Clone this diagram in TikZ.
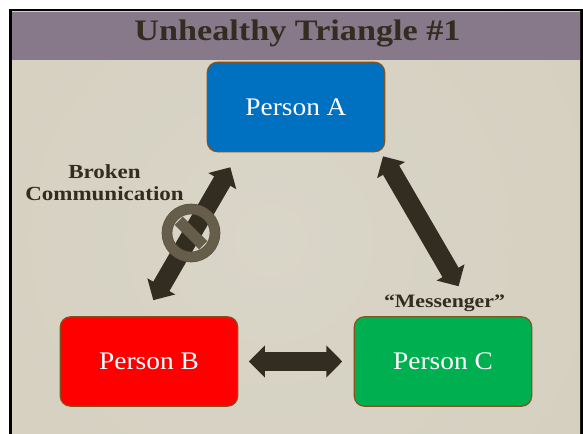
\documentclass[tikz,border=0pt]{standalone}
\usepackage{fontspec}
\setmainfont[FakeStretch=1.08,BoldFeatures={FakeStretch=1.15}]{Liberation Serif}
\usetikzlibrary{arrows.meta,calc}
\definecolor{bandcolor}{HTML}{87788A}
\definecolor{inkcolor}{HTML}{332C20}
\definecolor{edgecolor}{HTML}{84521F}
\definecolor{signcolor}{HTML}{665E4B}
\definecolor{signedge}{HTML}{5A5342}
\definecolor{paperinner}{HTML}{D9D5C8}
\definecolor{papermid}{HTML}{D3CDBA}
\definecolor{paperouter}{HTML}{B2AB97}
\definecolor{boxblue}{HTML}{0070C0}
\definecolor{boxgreen}{HTML}{00B050}
\pgfdeclareradialshading{paperglow}{\pgfpoint{0bp}{0bp}}{color(0bp)=(paperinner); color(37bp)=(papermid); color(50bp)=(paperouter)}
\tikzset{
  personbox/.style={draw=edgecolor,line width=0.9pt,rounded corners=7.5pt,minimum width=133pt,minimum height=67pt,inner sep=0pt,text=white,font=\fontsize{19}{23}\selectfont},
  fatarrow/.style={draw=inkcolor,line width=14pt,{Triangle[length=12pt,width=23.5pt]}-{Triangle[length=12pt,width=23.5pt]}},
  boldnote/.style={text=inkcolor,align=center,font=\fontsize{15}{16.5}\selectfont\bfseries,inner sep=0pt},
  nosign/.style={circle,draw=signedge,line width=0.5pt,double=signcolor,double distance=7pt,minimum size=36pt,inner sep=0pt},
  signbar/.style={draw=signedge,line width=0.5pt,double=signcolor,double distance=7.5pt}
}
\begin{document}
\begin{tikzpicture}[x=0.75pt,y=0.75pt,yscale=-1,xscale=1]
\useasboundingbox (0,0) rectangle (583,434);
%backdrop
\fill[white] (0,0) rectangle (583,434);
\fill[black] (9,9) rectangle (583,434);
\begin{scope}
\clip (12,12) rectangle (580,434);
\shade[shading=paperglow] (270,240) circle (390);
\end{scope}
\fill[bandcolor] (12,12) rectangle (580,60);
\node[anchor=base,text=inkcolor,font=\fontsize{22.3}{26}\selectfont\bfseries,inner sep=0pt] (titleText) at (297.5,40.7) {Unhealthy Triangle \#1};

%boxes
\node[personbox,fill=boxblue] (personA) at (296,107) {Person A};
\node[personbox,fill=red] (personB) at (149,361.5) {Person B};
\node[personbox,fill=boxgreen] (personC) at (443,361.5) {Person C};

%arrows
\draw[fatarrow,shorten <=13pt,shorten >=13.9pt] ($(personA.south)+(-57,0)$) -- ($(personB.north)+(-5,0)$);
\draw[fatarrow,shorten <=3.5pt,shorten >=26pt] ($(personA.south)+(84.7,0)$) -- ($(personC.north)+(33,0)$);
\draw[fatarrow,shorten <=8pt,shorten >=8.6pt] (personB.east) -- (personC.west);

%labels
\node[boldnote] (brokenText) at (104.5,182.3) {Broken\\Communication};
\node[boldnote,anchor=base,font=\fontsize{14.2}{16.5}\selectfont\bfseries] (messengerText) at (444.5,307.7) {“Messenger”};

%sign
\node[nosign] (noSign) at (191,233) {};
\draw[signbar,shorten <=5.5pt,shorten >=5.5pt] (noSign.north west) -- (noSign.south east);
\end{tikzpicture}
\end{document}
